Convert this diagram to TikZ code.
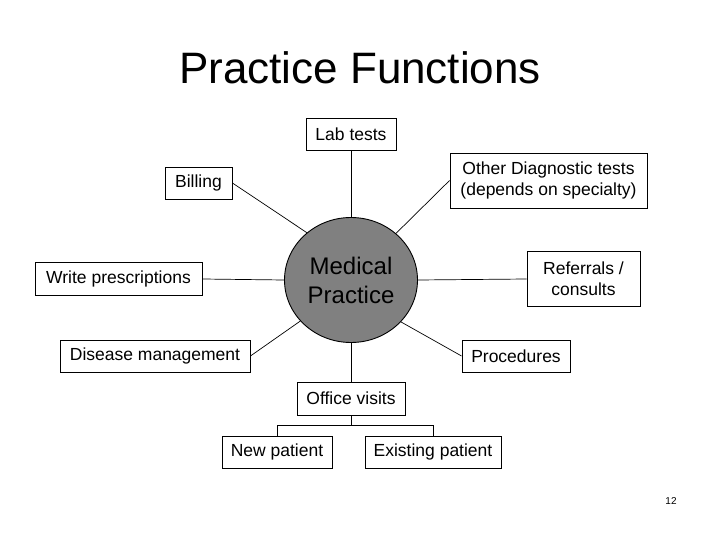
\documentclass[tikz,border=0pt]{standalone}
\usepackage{fontspec}
\setmainfont{Liberation Sans}
\usetikzlibrary{calc,shapes.geometric}
\begin{document}
\begin{tikzpicture}[x=1pt,y=-1pt,
  box/.style={draw=black, line width=0.9pt, fill=white, inner sep=0pt, align=center,
    font=\fontsize{17.5}{21}\selectfont},
  link/.style={draw=black, line width=0.7pt}]
\useasboundingbox (0,0) rectangle (720,540);
\node (title) at (360,68) {\fontsize{44}{50}\selectfont Practice Functions};
\node[box, minimum width=90pt, minimum height=32pt] (lab) at (351,134) {Lab tests};
\node[box, minimum width=197pt, minimum height=55pt] (other) at (548.5,180.5) {Other Diagnostic tests\\(depends on specialty)};
\node[box, minimum width=67pt, minimum height=32pt] (billing) at (198.5,183) {Billing};
\node[box, minimum width=167pt, minimum height=33pt] (write) at (118.5,279) {Write prescriptions};
\node[draw=black, line width=0.9pt, fill=black!50, ellipse, minimum width=133pt, minimum height=125pt, inner sep=0pt, align=center,
  font=\fontsize{24}{29}\selectfont] (mp) at (351,280) {Medical\\Practice};
\node[box, minimum width=113pt, minimum height=55pt] (ref) at (583.5,279) {Referrals /\\consults};
\node[box, minimum width=190pt, minimum height=32pt] (dis) at (155,356) {Disease management};
\node[box, minimum width=108pt, minimum height=32pt] (proc) at (516,356) {Procedures};
\node[box, minimum width=108pt, minimum height=33pt] (office) at (351,398.5) {Office visits};
\node[box, minimum width=110pt, minimum height=32pt] (new) at (277,452) {New patient};
\node[box, minimum width=136pt, minimum height=32pt] (exist) at (433,452) {Existing patient};
\node (pg) at (671,501) {\fontsize{10}{12}\selectfont 12};
\draw[link] (lab.south) -- (mp.north);
\draw[link] (billing.east) -- (mp.133);
\draw[link] (other.west) -- (mp.46);
\draw[link] (write.east) -- (mp.west);
\draw[link] (ref.west) -- (mp.east);
\draw[link] (dis.east) -- (mp.219);
\draw[link] (proc.west) -- (mp.-40);
\draw[link] (mp.south) -- (office.north);
\coordinate (fork) at ($(office.south)+(0,10)$);
\draw[link] (office.south) -- (fork);
\draw[link] (new.north) |- (fork) -| (exist.north);
\end{tikzpicture}
\end{document}
